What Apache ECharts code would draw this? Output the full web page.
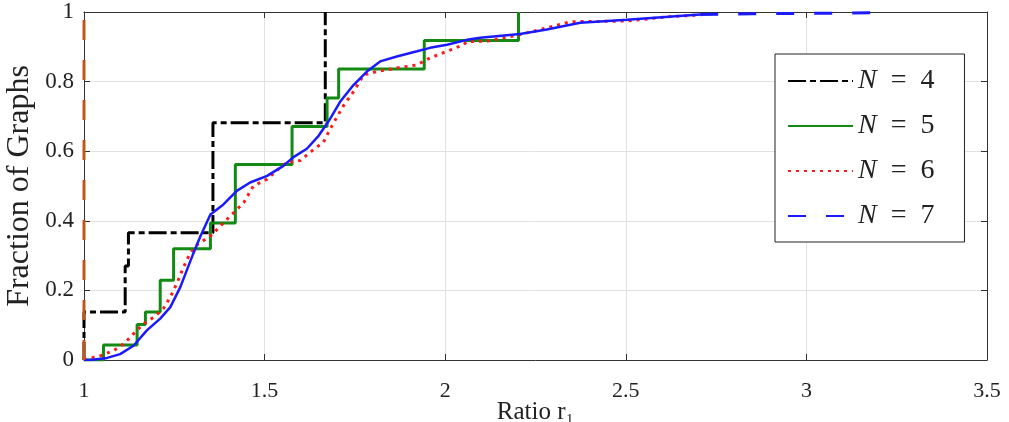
<!DOCTYPE html>
<html>
<head>
<meta charset="utf-8">
<script src="https://cdn.jsdelivr.net/npm/echarts@6/dist/echarts.min.js"></script>
<style>
  html, body { margin: 0; padding: 0; background: #fff; }
  #chart { width: 1009px; height: 422px; }
</style>
</head>
<body>
<div id="chart"></div>
<script>
// tick positions
const xTicks = [1, 1.5, 2, 2.5, 3, 3.5]
const yTicks = [0, 0.2, 0.4, 0.6, 0.8, 1]

// N = 3 (not in legend): all graphs at ratio 1
const n3X = [1, 1]
const n3Y = [0, 1]

// N = 4, empirical CDF (step)
const n4X = [1, 1, 1.114, 1.123, 1.357, 1.668]
const n4Y = [0, 0.138, 0.27, 0.366, 0.682, 1]

// N = 5, empirical CDF (step)
const n5X = [1, 1.054, 1.147, 1.17, 1.211, 1.248, 1.35, 1.419, 1.576, 1.673, 1.705, 1.942, 2.203]
const n5Y = [0, 0.043, 0.102, 0.138, 0.229, 0.32, 0.394, 0.562, 0.671, 0.753, 0.836, 0.918, 1]

// N = 6
const n6X = [1, 1.008, 1.045, 1.082, 1.11, 1.137, 1.165, 1.193, 1.22, 1.239, 1.257, 1.276, 1.294, 1.313,
  1.354, 1.386, 1.414, 1.442, 1.469, 1.507, 1.539, 1.562, 1.599, 1.626, 1.663, 1.682, 1.719, 1.746,
  1.774, 1.811, 1.866, 1.922, 1.958, 2.005, 2.051, 2.06, 2.115, 2.207, 2.281, 2.346, 2.503, 2.614, 2.71]
const n6Y = [0, 0.003, 0.012, 0.027, 0.046, 0.075, 0.104, 0.123, 0.148, 0.181, 0.22, 0.268, 0.307, 0.331,
  0.36, 0.394, 0.423, 0.452, 0.5, 0.52, 0.549, 0.568, 0.573, 0.597, 0.626, 0.665, 0.732, 0.771,
  0.819, 0.829, 0.839, 0.848, 0.868, 0.887, 0.906, 0.915, 0.916, 0.935, 0.954, 0.972, 0.974, 0.986, 0.992]

// N = 7, dense part and sparse tail
const n7X = [1, 1.017, 1.064, 1.1, 1.137, 1.174, 1.211, 1.239, 1.267, 1.285, 1.303, 1.322, 1.35, 1.386,
  1.423, 1.46, 1.507, 1.552, 1.58, 1.617, 1.65, 1.682, 1.709, 1.746, 1.783, 1.82, 1.866, 1.922, 1.958,
  2.005, 2.06, 2.097, 2.207, 2.281, 2.374, 2.503, 2.706]
const n7Y = [0, 0, 0.006, 0.017, 0.041, 0.085, 0.119, 0.152, 0.21, 0.259, 0.307, 0.355, 0.418, 0.447,
  0.486, 0.51, 0.529, 0.558, 0.583, 0.607, 0.645, 0.694, 0.742, 0.79, 0.829, 0.858, 0.872, 0.887, 0.897,
  0.906, 0.92, 0.926, 0.937, 0.95, 0.969, 0.978, 0.993]
const n7TailX = [2.706, 2.85, 3.0, 3.218]
const n7TailY = [0.993, 0.995, 0.996, 0.998]

const pairs = (xs, ys) => xs.map((x, i) => [x, ys[i]])

const FONT = '"Liberation Serif", "DejaVu Serif", serif'
const AXIS = '#333'
const GRID = '#e2e2e2'

const chart = echarts.init(document.getElementById('chart'))

const baseX = {
  type: 'value', min: 1, max: 3.5, interval: 0.5,
  axisLine: { show: true, onZero: false, lineStyle: { color: AXIS, width: 1 } },
  axisTick: { show: true, inside: true, length: 6, lineStyle: { color: AXIS } },
}
const baseY = {
  type: 'value', min: 0, max: 1, interval: 0.2,
  axisLine: { show: true, onZero: false, lineStyle: { color: AXIS, width: 1 } },
  axisTick: { show: true, inside: true, length: 6, lineStyle: { color: AXIS } },
}

chart.setOption({
  animation: false,
  backgroundColor: '#fff',
  grid: { left: 84, right: 22, top: 12, bottom: 62, outerBoundsMode: 'none', containLabel: false },
  xAxis: [
    {
      ...baseX, position: 'bottom',
      axisLabel: {
        color: '#222', fontFamily: FONT, fontSize: 22, margin: 20,
        formatter: v => xTicks.includes(v) ? String(v) : ''
      },
      splitLine: { show: true, lineStyle: { color: GRID, width: 1 } },
      name: 'Ratio r\u2081', nameLocation: 'middle', nameGap: 40, nameMoveOverlap: false,
      nameTextStyle: { color: '#222', fontFamily: FONT, fontSize: 25 }
    },
    { ...baseX, position: 'top', axisLabel: { show: false }, splitLine: { show: false } }
  ],
  yAxis: [
    {
      ...baseY, position: 'left',
      axisLabel: {
        color: '#222', fontFamily: FONT, fontSize: 23, margin: 10,
        formatter: v => yTicks.includes(v) ? String(v) : ''
      },
      splitLine: { show: true, lineStyle: { color: GRID, width: 1 } },
      name: 'Fraction of Graphs', nameLocation: 'middle', nameGap: 48, nameMoveOverlap: false,
      nameTextStyle: { color: '#222', fontFamily: FONT, fontSize: 32 }
    },
    { ...baseY, position: 'right', axisLabel: { show: false }, splitLine: { show: false } }
  ],
  legend: {
    orient: 'vertical',
    left: 775, top: 54,
    data: ['N = 4', 'N = 5', 'N = 6', 'N = 7'],
    itemWidth: 65, itemHeight: 14, itemGap: 17,
    padding: [13, 30, 12, 12],
    backgroundColor: '#fff',
    borderColor: '#222', borderWidth: 1,
    itemStyle: { opacity: 0 },
    formatter: name => '{i|N}{t|  =  ' + name.split('= ')[1] + '}',
    textStyle: {
      lineHeight: 25,
      rich: {
        i: { fontFamily: FONT, fontStyle: 'italic', fontSize: 28, lineHeight: 25, color: '#222' },
        t: { fontFamily: FONT, fontSize: 28, lineHeight: 25, color: '#222' }
      }
    }
  },
  series: [
    {
      name: 'N = 4', type: 'line', step: 'end', symbol: 'none',
      data: pairs(n4X, n4Y),
      lineStyle: { color: '#000', width: 3, type: [18, 4, 6, 4] },
      itemStyle: { color: '#000' }
    },
    {
      name: 'N = 5', type: 'line', step: 'end', symbol: 'none',
      data: pairs(n5X, n5Y),
      lineStyle: { color: '#138a13', width: 3 },
      itemStyle: { color: '#138a13' }
    },
    {
      name: 'N = 6', type: 'line', symbol: 'none',
      data: pairs(n6X, n6Y),
      lineStyle: { color: '#ff1a1a', width: 3, type: [3, 5] },
      itemStyle: { color: '#ff1a1a' }
    },
    {
      name: 'N7body', type: 'line', symbol: 'none',
      data: pairs(n7X, n7Y),
      lineStyle: { color: '#1a1aff', width: 2.5 },
      itemStyle: { color: '#1a1aff' }
    },
    {
      name: 'N = 7', type: 'line', symbol: 'none',
      data: pairs(n7TailX, n7TailY),
      lineStyle: { color: '#1a1aff', width: 3, type: [18, 20] },
      itemStyle: { color: '#1a1aff' }
    },
    {
      name: 'N = 3', type: 'line', symbol: 'none',
      data: pairs(n3X, n3Y),
      lineStyle: { color: '#c0561e', width: 3, type: [20, 20] },
      itemStyle: { color: '#c0561e' }
    }
  ]
})
</script>
</body>
</html>
